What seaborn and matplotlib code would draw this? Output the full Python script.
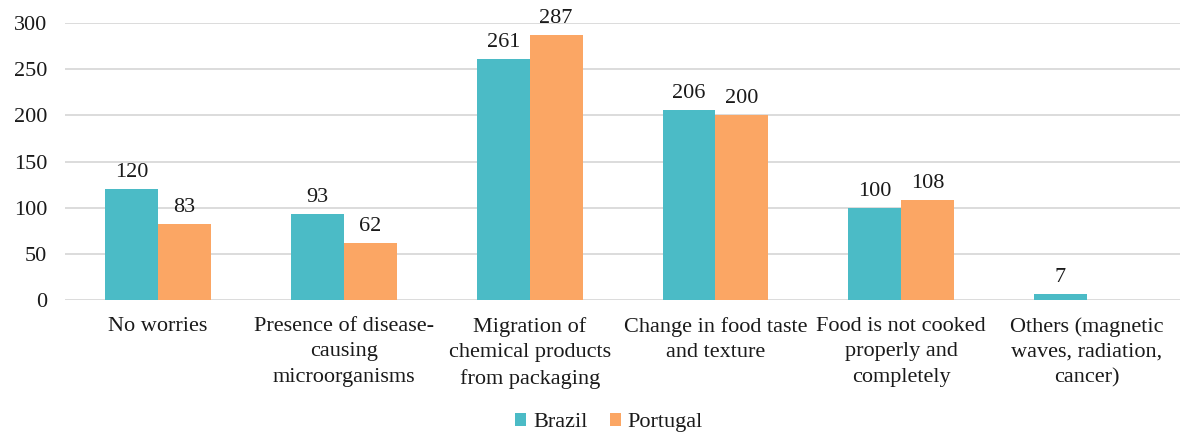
import matplotlib
matplotlib.use("Agg")
import matplotlib.pyplot as plt
import seaborn as sns
import pandas as pd

categories = [
    "No worries",
    "Presence of disease-\ncausing\nmicroorganisms",
    "Migration of\nchemical products\nfrom packaging",
    "Change in food taste\nand texture",
    "Food is not cooked\nproperly and\ncompletely",
    "Others (magnetic\nwaves, radiation,\ncancer)",
]
brazil = [120, 93, 261, 206, 100, 7]
portugal = [83, 62, 287, 200, 108, 0]
series = ["Brazil", "Portugal"]
colors = ["#4BBBC6", "#FBA664"]

df = pd.DataFrame({
    "category": categories * 2,
    "country": [series[0]] * len(categories) + [series[1]] * len(categories),
    "value": brazil + portugal,
})

sns.set_theme(style="white")
plt.rcParams["font.family"] = ["Liberation Serif", "DejaVu Serif"]
FS = 16
TXT = "#1a1a1a"

fig = plt.figure(figsize=(11.87, 4.32), dpi=100)
ax = fig.add_axes([0.055, 0.305, 0.939, 0.642])

sns.barplot(data=df, x="category", y="value", hue="country",
            palette=colors, width=0.57, saturation=1, linewidth=0,
            ax=ax, legend=True)

ax.set_ylim(0, 300)
ax.set_yticks(range(0, 301, 50))
ax.yaxis.grid(True, color="#D9D9D9", linewidth=1.3)
ax.set_axisbelow(True)
for s in ["top", "right", "left", "bottom"]:
    ax.spines[s].set_visible(False)
ax.tick_params(axis="both", length=0, labelsize=FS, colors=TXT)
ax.tick_params(axis="x", pad=12)
ax.tick_params(axis="y", pad=13)
ax.set_xticks(range(len(categories)))
ax.set_xticklabels(categories, linespacing=1.45)
ax.set_xlabel("")
ax.set_ylabel("")

for cont in ax.containers:
    labels = [f"{int(b.get_height())}" if b.get_height() > 0 else "" for b in cont]
    ax.bar_label(cont, labels=labels, padding=5, fontsize=FS, color=TXT)

handles, labels = ax.get_legend_handles_labels()
ax.get_legend().remove()
fig.legend(handles, labels, loc="center", bbox_to_anchor=(0.513, 0.022), ncol=2,
           frameon=False, fontsize=FS, handlelength=0.5, handleheight=0.5,
           handletextpad=0.3, columnspacing=1.0, labelcolor=TXT)

fig.savefig("out.png", dpi=100)
